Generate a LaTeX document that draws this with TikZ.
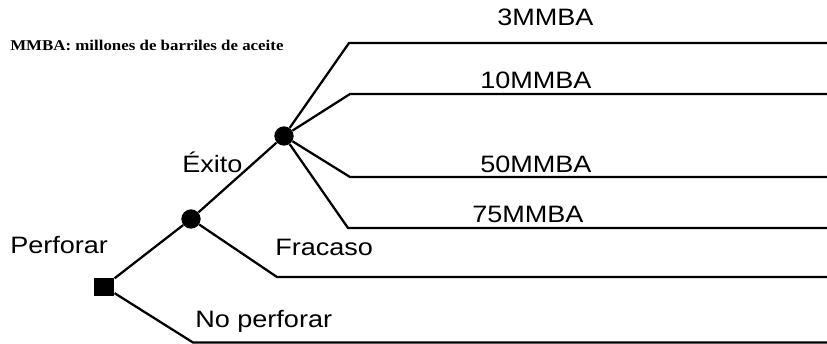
\documentclass[tikz,border=0pt]{standalone}
\usepackage{fontspec}
\setmainfont{Liberation Sans}
\newfontfamily\hdrfont{Liberation Serif}
\begin{document}
\begin{tikzpicture}[x=0.75pt,y=-0.75pt,
  branch/.style={line width=1.7pt, line join=miter},
  chance/.style={circle, fill=black, minimum size=14.5pt, inner sep=0pt},
  decision/.style={rectangle, fill=black, minimum width=15.5pt, minimum height=13.5pt, inner sep=0pt},
  lbl/.style={anchor=base west, inner sep=0pt, font=\fontsize{17.8}{20}\selectfont},
  hdr/.style={anchor=base west, inner sep=0pt, font=\hdrfont\bfseries\fontsize{11.2}{13}\selectfont}]
\useasboundingbox (0,0) rectangle (827,343);
% nodes
\node[decision] (sq) at (104,286.5) {};
\node[chance] (c1) at (191,219) {};
\node[chance] (c2) at (284,136) {};
% corners and ends
\coordinate (a1) at (349,43);  \coordinate (a2) at (827,43);
\coordinate (b1) at (350,94);  \coordinate (b2) at (827,94);
\coordinate (d1) at (350,177); \coordinate (d2) at (827,177);
\coordinate (e1) at (348,228); \coordinate (e2) at (827,228);
\coordinate (f1) at (277,277); \coordinate (f2) at (827,277);
\coordinate (g1) at (193,342.5); \coordinate (g2) at (827,342.5);
% connectors
\draw[branch] (sq) -- (c1);
\draw[branch] (c1) -- (c2);
\draw[branch] (c1) -- (f1) -- (f2);
\draw[branch] (sq) -- (g1) -- (g2);
\draw[branch] (c2) -- (a1) -- (a2);
\draw[branch] (c2) -- (b1) -- (b2);
\draw[branch] (c2) -- (d1) -- (d2);
\draw[branch] (c2) -- (e1) -- (e2);
% labels
\node[hdr] (h) at (10,50) {\scalebox{1.13}[1]{MMBA: millones de barriles de aceite}};
\node[lbl] (t3) at (497,25) {\scalebox{1.14}[1]{3MMBA}};
\node[lbl] (t10) at (480,88) {\scalebox{1.14}[1]{10MMBA}};
\node[lbl] (t50) at (480,172) {\scalebox{1.14}[1]{50MMBA}};
\node[lbl] (t75) at (472,222) {\scalebox{1.14}[1]{75MMBA}};
\node[lbl] (ex) at (182,172) {\scalebox{1.14}[1]{Éxito}};
\node[lbl] (fr) at (275,255) {\scalebox{1.14}[1]{Fracaso}};
\node[lbl] (np) at (195,327) {\scalebox{1.14}[1]{No perforar}};
\node[lbl] (pf) at (10,253) {\scalebox{1.14}[1]{Perforar}};
\end{tikzpicture}
\end{document}
